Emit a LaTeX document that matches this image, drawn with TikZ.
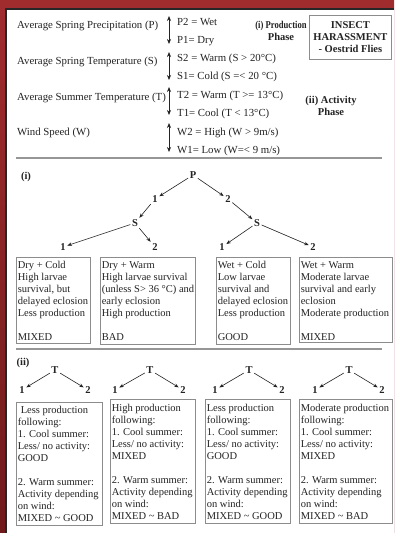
\documentclass[tikz,border=0pt]{standalone}
\usepackage{fontspec}
\setmainfont{Liberation Serif}
\usetikzlibrary{arrows.meta}
\definecolor{framelight}{RGB}{160,44,46}
\definecolor{framedark}{RGB}{112,26,28}
\definecolor{ink}{RGB}{35,35,35}
\definecolor{boxgray}{RGB}{140,140,140}
\definecolor{sepgray}{RGB}{150,150,150}
\begin{document}
\begin{tikzpicture}[x=1pt,y=-1pt,
  txt/.style={font=\fontsize{10.5}{12}\selectfont, text=ink, inner sep=0pt},
  lbl/.style={txt, font=\fontsize{10.8}{12}\selectfont, anchor=base west},
  headtxt/.style={txt, font=\fontsize{10.5}{12}\selectfont\bfseries, align=center},
  lev/.style={txt, font=\fontsize{10.5}{12}\selectfont\bfseries, inner sep=1.5pt},
  arr/.style={draw=ink, line width=0.6pt, -{Stealth[length=4.5pt,width=3.5pt]}},
  dbl/.style={draw=ink, line width=0.7pt, {Stealth[length=5pt,width=4pt]}-{Stealth[length=5pt,width=4pt]}},
  frm/.style={draw=boxgray, line width=0.8pt, inner sep=0pt, anchor=north west},
  boxtext/.style={txt, align=left, anchor=north west},
  sep/.style={draw=sepgray, line width=1.6pt}]
\useasboundingbox (0,0) rectangle (394,533);
% background frame
\shade[top color=framelight, bottom color=framedark] (0,0) rectangle (394,533);
\fill[white] (6,10) rectangle (394,533);
\draw[black!85, line width=1.5pt] (6,533) -- (6,9.2) -- (394,9.2);

% ---- top section: variables ----
\node[lbl] (lP) at (17,28.5) {Average Spring Precipitation (P)};
\node[lbl] (lS) at (17,64.5) {Average Spring Temperature (S)};
\node[lbl] (lT) at (17,100.5) {Average Summer Temperature (T)};
\node[lbl] (lW) at (17,135.5) {Wind Speed (W)};

\node[lbl] (vP2) at (177,25.5) {P2 = Wet};
\node[lbl] (vP1) at (177,43.5) {P1= Dry};
\node[lbl] (vS2) at (177,61.5) {S2 = Warm (S > 20°C)};
\node[lbl] (vS1) at (177,79.5) {S1= Cold (S =< 20 °C)};
\node[lbl] (vT2) at (177,98.5) {T2 = Warm (T >= 13°C)};
\node[lbl] (vT1) at (177,116.5) {T1= Cool (T < 13°C)};
\node[lbl] (vW2) at (177,135.5) {W2 = High (W > 9m/s)};
\node[lbl] (vW1) at (177,153.5) {W1= Low (W=< 9 m/s)};

\coordinate (aPt) at (169,16);  \coordinate (aPb) at (169,44);
\coordinate (aSt) at (169,52);  \coordinate (aSb) at (169,80);
\coordinate (aTt) at (169,87);  \coordinate (aTb) at (169,115);
\coordinate (aWt) at (169,123); \coordinate (aWb) at (169,152);
\draw[dbl] (aPt) -- (aPb);
\draw[dbl] (aSt) -- (aSb);
\draw[dbl] (aTt) -- (aTb);
\draw[dbl] (aWt) -- (aWb);

\node[headtxt] (hProd) at (281,30.5) {\scalebox{0.82}[1]{(i) Production}\\Phase};
\node[headtxt] (hAct) at (331,105.5) {(ii) Activity\\Phase};
\node[frm, minimum width=82pt, minimum height=44pt] (ibox) at (309,15) {};
\node[headtxt] (ititle) at (ibox.center) {INSECT\\HARASSMENT\\- Oestrid Flies};

\draw[sep] (16,158) -- (382,158);

% ---- section (i) ----
\node[lev] (ilab) at (26,177) {(i)};
\node[lev] (P) at (193,175) {P};
\node[lev] (a1) at (155,199) {1};
\node[lev] (a2) at (228,199) {2};
\node[lev] (SL) at (135,223) {S};
\node[lev] (SR) at (257,223) {S};
\node[lev] (L1) at (63,247) {1};
\node[lev] (L2) at (155,247) {2};
\node[lev] (R1) at (222,247) {1};
\node[lev] (R2) at (313,247) {2};
\draw[arr] (P) -- (a1);
\draw[arr] (a1) -- (SL);
\draw[arr] (P) -- (a2);
\draw[arr] (a2) -- (SR);
\draw[arr] (SL) -- (L1);
\draw[arr] (SL) -- (L2);
\draw[arr] (SR) -- (R1);
\draw[arr] (SR) -- (R2);

\node[frm, minimum width=74pt, minimum height=86pt] (b1) at (16,257) {};
\node[frm, minimum width=95pt, minimum height=87pt] (b2) at (100,257) {};
\node[frm, minimum width=74pt, minimum height=87pt] (b3) at (216,257) {};
\node[frm, minimum width=93pt, minimum height=85pt] (b4) at (299,257) {};
\node[boxtext] (t1) at ([shift={(1.6,4.4)}]b1.north west) {Dry + Cold\\High larvae\\survival, but\\delayed eclosion\\Less production\\[12pt]MIXED};
\node[boxtext] (t2) at ([shift={(1.6,4.4)}]b2.north west) {Dry + Warm\\High larvae survival\\(unless S> 36 °C) and\\early eclosion\\High production\\[12pt]BAD};
\node[boxtext] (t3) at ([shift={(1.6,4.4)}]b3.north west) {Wet + Cold\\Low larvae\\survival and\\delayed eclosion\\Less production\\[12pt]GOOD};
\node[boxtext] (t4) at ([shift={(1.6,4.4)}]b4.north west) {Wet + Warm\\Moderate larvae\\survival and early\\eclosion\\Moderate production\\[12pt]MIXED};

\draw[sep] (16,349) -- (382,349);

% ---- section (ii) ----
\node[lev] (iilab) at (23,363) {(ii)};
\foreach \n/\tx/\lx/\rx in {1/55/22/88, 2/150/115/183, 3/249/215/282, 4/349/315/382}{
  \node[lev] (T\n) at (\tx,370) {T};
  \node[lev] (T\n a) at (\lx,390) {1};
  \node[lev] (T\n b) at (\rx,390) {2};
  \draw[arr] (T\n) -- (T\n a);
  \draw[arr] (T\n) -- (T\n b);
}

\node[frm, minimum width=86pt, minimum height=123pt] (c1) at (16,402) {};
\node[frm, minimum width=85pt, minimum height=124pt] (c2) at (110,399) {};
\node[frm, minimum width=85pt, minimum height=124pt] (c3) at (205,399) {};
\node[frm, minimum width=93pt, minimum height=124pt] (c4) at (299,399) {};
\node[boxtext] (u1) at ([shift={(1.6,4.4)}]c1.north west) {\hspace{3pt}Less production\\following:\\1. Cool summer:\\Less/ no activity:\\GOOD\\[12pt]2. Warm summer:\\Activity depending\\on wind:\\MIXED \textasciitilde{} GOOD};
\node[boxtext] (u2) at ([shift={(1.6,5.2)}]c2.north west) {High production\\following:\\1. Cool summer:\\Less/ no activity:\\MIXED\\[12pt]2. Warm summer:\\Activity depending\\on wind:\\MIXED \textasciitilde{} BAD};
\node[boxtext] (u3) at ([shift={(1.6,5.2)}]c3.north west) {Less production\\following:\\1. Cool summer:\\Less/ no activity:\\GOOD\\[12pt]2. Warm summer:\\Activity depending\\on wind:\\MIXED \textasciitilde{} GOOD};
\node[boxtext] (u4) at ([shift={(1.6,5.2)}]c4.north west) {Moderate production\\following:\\1. Cool summer:\\Less/ no activity:\\MIXED\\[12pt]2. Warm summer:\\Activity depending\\on wind:\\MIXED \textasciitilde{} BAD};
\end{tikzpicture}
\end{document}
